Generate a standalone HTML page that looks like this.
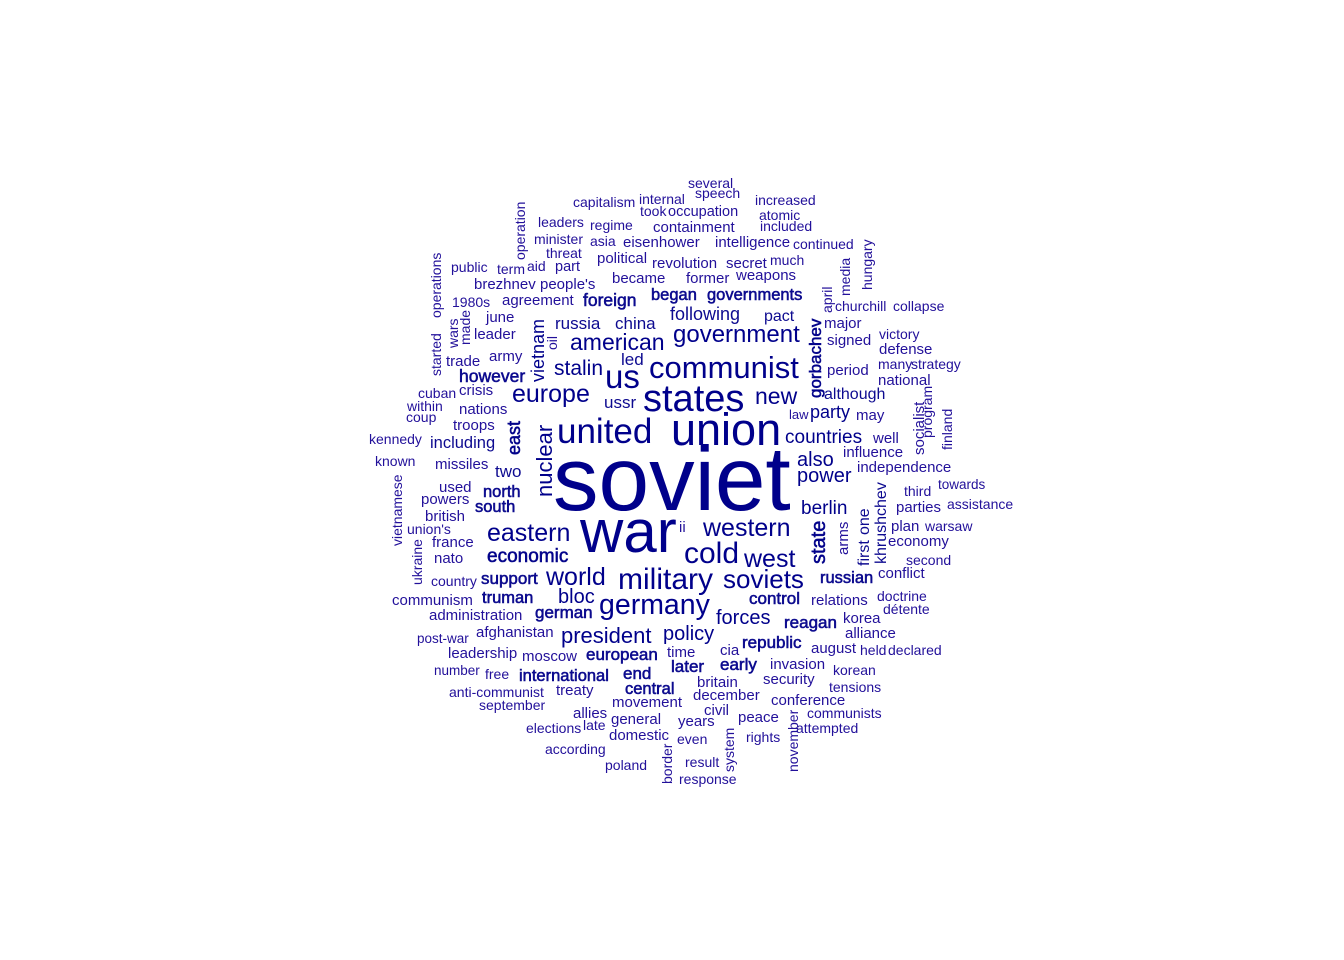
<!DOCTYPE html>
<html><head><meta charset="utf-8">
<style>
html,body{margin:0;padding:0;background:#fff;}
svg{display:block;}
text{font-family:"Liberation Sans",Arial,sans-serif;}
.s{fill:#22109a;}
.m{fill:#0d0a90;}
.l{fill:#00008B;}
.b{stroke:#0a0a8c;stroke-width:0.55;}
</style></head>
<body>
<svg width="1344" height="960" viewBox="0 0 1344 960">
<rect width="1344" height="960" fill="#fff"/>
<g>
<text class="l" x="553" y="510" font-size="91">soviet</text>
<text class="l" x="580" y="552" font-size="60">war</text>
<text class="l" x="671" y="445" font-size="45">union</text>
<text class="l" x="557" y="443" font-size="35">united</text>
<text class="l" x="643" y="411" font-size="38">states</text>
<text class="l" x="605" y="388" font-size="33">us</text>
<text class="l" x="649" y="378" font-size="31">communist</text>
<text class="l" x="673" y="342" font-size="24">government</text>
<text class="l" x="570" y="350" font-size="23">american</text>
<text class="l" x="512" y="402" font-size="25">europe</text>
<text class="l" x="755" y="404" font-size="23">new</text>
<text class="l" x="554" y="375" font-size="21">stalin</text>
<text class="l" x="684" y="563" font-size="30">cold</text>
<text class="l" x="744" y="567" font-size="25">west</text>
<text class="l" x="703" y="536" font-size="25">western</text>
<text class="l" x="618" y="589" font-size="30">military</text>
<text class="l" x="723" y="588" font-size="26">soviets</text>
<text class="l" x="599" y="614" font-size="28.5">germany</text>
<text class="l" x="546" y="585" font-size="25">world</text>
<text class="l" x="487" y="541" font-size="25">eastern</text>
<text class="l b" x="487" y="562" font-size="19">economic</text>
<text class="l" x="558" y="603" font-size="20">bloc</text>
<text class="l" x="561" y="643" font-size="22">president</text>
<text class="l" x="663" y="640" font-size="20">policy</text>
<text class="l" x="716" y="624" font-size="20">forces</text>
<text class="l" x="785" y="443" font-size="19">countries</text>
<text class="l" x="797" y="466" font-size="20">also</text>
<text class="l" x="797" y="482" font-size="20">power</text>
<text class="l" x="801" y="514" font-size="19">berlin</text>
<text class="l" x="810" y="418" font-size="18">party</text>
<text class="m" x="670" y="320" font-size="18">following</text>
<text class="m b" x="651" y="300" font-size="16.5">began</text>
<text class="m b" x="707" y="300" font-size="16.5">governments</text>
<text class="m b" x="583" y="306" font-size="17.5">foreign</text>
<text class="m" x="555" y="329" font-size="17">russia</text>
<text class="m" x="615" y="329" font-size="17">china</text>
<text class="m" x="764" y="321" font-size="16">pact</text>
<text class="m" x="621" y="365" font-size="17">led</text>
<text class="m b" x="459" y="382" font-size="17.5">however</text>
<text class="m" x="604" y="408" font-size="17">ussr</text>
<text class="m" x="430" y="448" font-size="16.5">including</text>
<text class="m" x="495" y="477" font-size="17">two</text>
<text class="m b" x="483" y="497" font-size="16.5">north</text>
<text class="m b" x="475" y="512" font-size="16.5">south</text>
<text class="m b" x="481" y="584" font-size="17">support</text>
<text class="m b" x="482" y="603" font-size="16.5">truman</text>
<text class="m b" x="535" y="618" font-size="17">german</text>
<text class="m b" x="586" y="660" font-size="17">european</text>
<text class="m b" x="519" y="681" font-size="16.5">international</text>
<text class="m b" x="623" y="679" font-size="17">end</text>
<text class="m b" x="671" y="672" font-size="17">later</text>
<text class="m b" x="625" y="694" font-size="16.5">central</text>
<text class="m b" x="820" y="583" font-size="16.5">russian</text>
<text class="m b" x="749" y="604" font-size="17">control</text>
<text class="m b" x="784" y="628" font-size="17">reagan</text>
<text class="m b" x="742" y="648" font-size="17">republic</text>
<text class="m b" x="720" y="670" font-size="17">early</text>
<text class="m" x="824" y="399" font-size="16">although</text>
<text class="s" x="688" y="188" font-size="14">several</text>
<text class="s" x="695" y="198" font-size="14">speech</text>
<text class="s" x="573" y="207" font-size="14">capitalism</text>
<text class="s" x="639" y="204" font-size="14">internal</text>
<text class="s" x="755" y="205" font-size="14">increased</text>
<text class="s" x="640" y="216" font-size="14">took</text>
<text class="s" x="668" y="216" font-size="14.5">occupation</text>
<text class="s" x="759" y="220" font-size="14">atomic</text>
<text class="s" x="538" y="227" font-size="14">leaders</text>
<text class="s" x="590" y="230" font-size="14">regime</text>
<text class="s" x="653" y="232" font-size="15">containment</text>
<text class="s" x="760" y="231" font-size="14">included</text>
<text class="s" x="534" y="244" font-size="14">minister</text>
<text class="s" x="590" y="246" font-size="14">asia</text>
<text class="s" x="623" y="247" font-size="15">eisenhower</text>
<text class="s" x="715" y="247" font-size="15">intelligence</text>
<text class="s" x="793" y="249" font-size="14">continued</text>
<text class="s" x="546" y="258" font-size="14">threat</text>
<text class="s" x="597" y="263" font-size="15">political</text>
<text class="s" x="652" y="268" font-size="15">revolution</text>
<text class="s" x="726" y="268" font-size="15">secret</text>
<text class="s" x="770" y="265" font-size="14">much</text>
<text class="s" x="451" y="272" font-size="14">public</text>
<text class="s" x="497" y="274" font-size="14">term</text>
<text class="s" x="527" y="271" font-size="14">aid</text>
<text class="s" x="555" y="271" font-size="14.5">part</text>
<text class="s" x="612" y="283" font-size="15">became</text>
<text class="s" x="686" y="283" font-size="15">former</text>
<text class="s" x="736" y="280" font-size="15">weapons</text>
<text class="s" x="474" y="289" font-size="15">brezhnev</text>
<text class="s" x="540" y="289" font-size="15">people's</text>
<text class="s" x="452" y="307" font-size="14">1980s</text>
<text class="s" x="502" y="305" font-size="15">agreement</text>
<text class="s" x="486" y="322" font-size="15">june</text>
<text class="s" x="474" y="339" font-size="15">leader</text>
<text class="s" x="446" y="366" font-size="15">trade</text>
<text class="s" x="489" y="361" font-size="15">army</text>
<text class="s" x="418" y="398" font-size="14">cuban</text>
<text class="s" x="459" y="395" font-size="15">crisis</text>
<text class="s" x="407" y="411" font-size="14">within</text>
<text class="s" x="459" y="414" font-size="15">nations</text>
<text class="s" x="406" y="422" font-size="14">coup</text>
<text class="s" x="453" y="430" font-size="15">troops</text>
<text class="s" x="369" y="444" font-size="14">kennedy</text>
<text class="s" x="375" y="466" font-size="14">known</text>
<text class="s" x="435" y="469" font-size="15">missiles</text>
<text class="s" x="439" y="492" font-size="15">used</text>
<text class="s" x="421" y="504" font-size="15">powers</text>
<text class="s" x="425" y="521" font-size="15">british</text>
<text class="s" x="407" y="534" font-size="14">union's</text>
<text class="s" x="432" y="547" font-size="15">france</text>
<text class="s" x="434" y="563" font-size="15">nato</text>
<text class="s" x="431" y="586" font-size="14">country</text>
<text class="s" x="392" y="605" font-size="15">communism</text>
<text class="s" x="429" y="620" font-size="15">administration</text>
<text class="s" x="417" y="643" font-size="13.5">post-war</text>
<text class="s" x="476" y="637" font-size="15">afghanistan</text>
<text class="s" x="448" y="658" font-size="15">leadership</text>
<text class="s" x="522" y="661" font-size="15">moscow</text>
<text class="s" x="667" y="657" font-size="15">time</text>
<text class="s" x="434" y="675" font-size="13.5">number</text>
<text class="s" x="485" y="679" font-size="14">free</text>
<text class="s" x="449" y="697" font-size="14">anti-communist</text>
<text class="s" x="556" y="695" font-size="15">treaty</text>
<text class="s" x="612" y="707" font-size="15">movement</text>
<text class="s" x="479" y="710" font-size="14">september</text>
<text class="s" x="573" y="718" font-size="15">allies</text>
<text class="s" x="611" y="724" font-size="15">general</text>
<text class="s" x="526" y="733" font-size="14">elections</text>
<text class="s" x="583" y="730" font-size="14">late</text>
<text class="s" x="609" y="740" font-size="15">domestic</text>
<text class="s" x="545" y="754" font-size="14">according</text>
<text class="s" x="605" y="770" font-size="14">poland</text>
<text class="s" x="679" y="532" font-size="15">ii</text>
<text class="s" x="835" y="311" font-size="14">churchill</text>
<text class="s" x="893" y="311" font-size="14">collapse</text>
<text class="s" x="824" y="328" font-size="15">major</text>
<text class="s" x="827" y="345" font-size="15">signed</text>
<text class="s" x="879" y="339" font-size="14">victory</text>
<text class="s" x="879" y="354" font-size="15">defense</text>
<text class="s" x="878" y="369" font-size="14">many</text>
<text class="s" x="911" y="369" font-size="14">strategy</text>
<text class="s" x="827" y="375" font-size="15">period</text>
<text class="s" x="878" y="385" font-size="15">national</text>
<text class="s" x="789" y="419" font-size="13">law</text>
<text class="s" x="856" y="420" font-size="15">may</text>
<text class="s" x="873" y="443" font-size="15">well</text>
<text class="s" x="843" y="457" font-size="15">influence</text>
<text class="s" x="857" y="472" font-size="15">independence</text>
<text class="s" x="938" y="489" font-size="13.5">towards</text>
<text class="s" x="904" y="496" font-size="14">third</text>
<text class="s" x="947" y="509" font-size="14">assistance</text>
<text class="s" x="896" y="512" font-size="15">parties</text>
<text class="s" x="891" y="531" font-size="15">plan</text>
<text class="s" x="925" y="531" font-size="14">warsaw</text>
<text class="s" x="888" y="546" font-size="15">economy</text>
<text class="s" x="906" y="565" font-size="14">second</text>
<text class="s" x="878" y="578" font-size="15">conflict</text>
<text class="s" x="811" y="605" font-size="15">relations</text>
<text class="s" x="877" y="601" font-size="14">doctrine</text>
<text class="s" x="883" y="614" font-size="14">détente</text>
<text class="s" x="843" y="623" font-size="15">korea</text>
<text class="s" x="845" y="638" font-size="15">alliance</text>
<text class="s" x="720" y="655" font-size="15">cia</text>
<text class="s" x="811" y="653" font-size="15">august</text>
<text class="s" x="860" y="655" font-size="14">held</text>
<text class="s" x="888" y="655" font-size="14">declared</text>
<text class="s" x="770" y="669" font-size="15">invasion</text>
<text class="s" x="833" y="675" font-size="14">korean</text>
<text class="s" x="697" y="687" font-size="15">britain</text>
<text class="s" x="763" y="684" font-size="15">security</text>
<text class="s" x="829" y="692" font-size="14">tensions</text>
<text class="s" x="693" y="700" font-size="15">december</text>
<text class="s" x="771" y="705" font-size="15">conference</text>
<text class="s" x="704" y="715" font-size="15">civil</text>
<text class="s" x="807" y="718" font-size="14">communists</text>
<text class="s" x="738" y="722" font-size="15">peace</text>
<text class="s" x="678" y="726" font-size="15">years</text>
<text class="s" x="796" y="733" font-size="14">attempted</text>
<text class="s" x="746" y="742" font-size="14">rights</text>
<text class="s" x="677" y="744" font-size="14">even</text>
<text class="s" x="685" y="767" font-size="14">result</text>
<text class="s" x="679" y="784" font-size="14">response</text>
</g>
<g>
<text class="s" font-size="14" transform="translate(525,260) rotate(-90)">operation</text>
<text class="s" font-size="14" transform="translate(441,318) rotate(-90)">operations</text>
<text class="s" font-size="14" transform="translate(441,376) rotate(-90)">started</text>
<text class="s" font-size="14" transform="translate(458,348) rotate(-90)">wars</text>
<text class="s" font-size="14" transform="translate(470,345) rotate(-90)">made</text>
<text class="l" font-size="18" transform="translate(544,382) rotate(-90)">vietnam</text>
<text class="s" font-size="14" transform="translate(557,350) rotate(-90)">oil</text>
<text class="l b" font-size="18" transform="translate(520,455) rotate(-90)">east</text>
<text class="l" font-size="22" transform="translate(552,497) rotate(-90)">nuclear</text>
<text class="s" font-size="14" transform="translate(872,290) rotate(-90)">hungary</text>
<text class="s" font-size="14" transform="translate(850,296) rotate(-90)">media</text>
<text class="s" font-size="14" transform="translate(832,313) rotate(-90)">april</text>
<text class="l b" font-size="17" transform="translate(821,398) rotate(-90)">gorbachev</text>
<text class="s" font-size="15" transform="translate(924,455) rotate(-90)">socialist</text>
<text class="s" font-size="14" transform="translate(932,438) rotate(-90)">program</text>
<text class="s" font-size="14" transform="translate(952,450) rotate(-90)">finland</text>
<text class="m" font-size="16" transform="translate(886,564) rotate(-90)">khrushchev</text>
<text class="m" font-size="16" transform="translate(869,535) rotate(-90)">one</text>
<text class="m" font-size="16" transform="translate(869,566) rotate(-90)">first</text>
<text class="s" font-size="15" transform="translate(848,555) rotate(-90)">arms</text>
<text class="l b" font-size="20" transform="translate(825,564) rotate(-90)">state</text>
<text class="s" font-size="14" transform="translate(402,546) rotate(-90)">vietnamese</text>
<text class="s" font-size="14" transform="translate(422,585) rotate(-90)">ukraine</text>
<text class="s" font-size="14" transform="translate(798,772) rotate(-90)">november</text>
<text class="s" font-size="14" transform="translate(734,772) rotate(-90)">system</text>
<text class="s" font-size="14" transform="translate(672,784) rotate(-90)">border</text>
</g>
</svg>
</body></html>
